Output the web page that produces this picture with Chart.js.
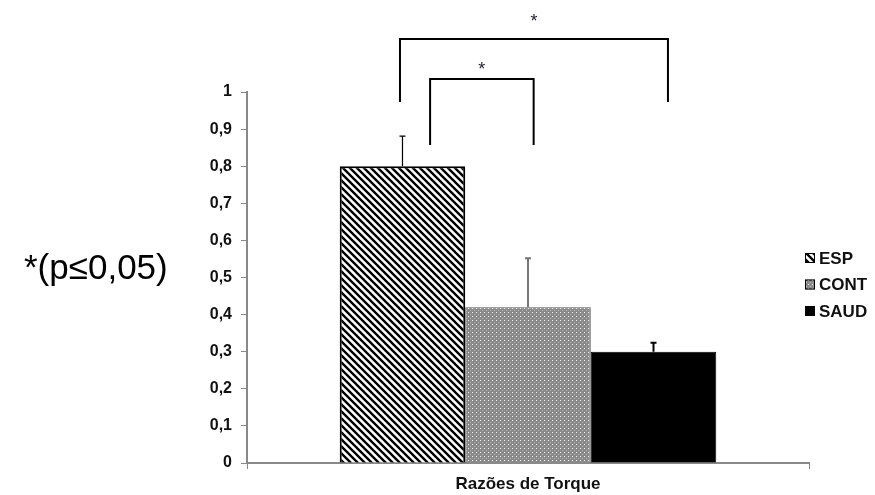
<!DOCTYPE html>
<html><head><meta charset="utf-8">
<script src="https://cdn.jsdelivr.net/npm/chart.js@4/dist/chart.umd.min.js"></script>
<style>html,body{margin:0;padding:0;background:#fff}canvas{display:block}</style>
</head><body>
<canvas id="c" width="875" height="495"></canvas>
<script>
const categories = ['Razões de Torque'];
const seriesNames = ['ESP', 'CONT', 'SAUD'];
const means = [0.80, 0.42, 0.30];
const errors = [0.081, 0.132, 0.024];
const yTickLabels = ['0', '0,1', '0,2', '0,3', '0,4', '0,5', '0,6', '0,7', '0,8', '0,9', '1'];
const bracketFrom = [0, 0];
const bracketTo = [2, 1];
const bracketTop = [1.143, 1.035];
const bracketLeg = [0.973, 0.857];
const bracketStar = ['*', '*'];
const noteText = '*(p≤0,05)';

const FONT = '"Liberation Sans", Arial, sans-serif';

function makePattern(w, h, draw) {
  const c = document.createElement('canvas');
  c.width = w; c.height = h;
  const g = c.getContext('2d');
  draw(g, w, h);
  return document.getElementById('c').getContext('2d').createPattern(c, 'repeat');
}
const hatch = makePattern(7, 7, (g, s) => {
  g.fillStyle = '#fff'; g.fillRect(0, 0, s, s);
  g.strokeStyle = '#000'; g.lineWidth = 2.4;
  g.beginPath();
  for (const k of [-s, 0, s]) { g.moveTo(k - 1, -1); g.lineTo(k + s + 1, s + 1); }
  g.stroke();
});
const dots = makePattern(4, 4, (g, s) => {
  g.fillStyle = '#8a8a8a'; g.fillRect(0, 0, s, s);
  g.fillStyle = '#f2f2f2'; g.fillRect(0, 0, 1, 1);
  g.fillStyle = '#b8b8b8'; g.fillRect(2, 2, 1, 1);
});
const fills = [hatch, dots, '#000'];
const borders = ['#000', '#555', '#000'];
const borderWidths = [2, 1, 1];
const errColors = ['#000', '#777', '#000'];
const errWidths = [1.2, 2, 2];

const overlay = {
  id: 'overlay',
  afterDatasetsDraw(chart) {
    const ctx = chart.ctx, ys = chart.scales.y;
    ctx.save();
    seriesNames.forEach((n, i) => {
      const el = chart.getDatasetMeta(i).data[0];
      const yt = ys.getPixelForValue(means[i] + errors[i]);
      ctx.strokeStyle = errColors[i]; ctx.lineWidth = errWidths[i];
      ctx.beginPath();
      ctx.moveTo(el.x, el.y); ctx.lineTo(el.x, yt);
      ctx.moveTo(el.x - 3, yt); ctx.lineTo(el.x + 3, yt);
      ctx.stroke();
    });
    const offL = [-0.02, 0.22], offR = [0.115, 0.045];
    bracketFrom.forEach((f, b) => {
      const e1 = chart.getDatasetMeta(f).data[0];
      const e2 = chart.getDatasetMeta(bracketTo[b]).data[0];
      const x1 = e1.x + e1.width * offL[b];
      const x2 = e2.x + e2.width * offR[b];
      const yt = ys.getPixelForValue(bracketTop[b]);
      const yl = ys.getPixelForValue(bracketLeg[b]);
      ctx.strokeStyle = '#000'; ctx.lineWidth = 2;
      ctx.beginPath();
      ctx.moveTo(x1, yl); ctx.lineTo(x1, yt); ctx.lineTo(x2, yt); ctx.lineTo(x2, yl);
      ctx.stroke();
      ctx.fillStyle = '#223';
      ctx.font = '18px ' + FONT;
      ctx.textAlign = 'center'; ctx.textBaseline = 'middle';
      ctx.fillText(bracketStar[b], (x1 + x2) / 2, yt - (b === 0 ? 17 : 9));
    });
    ctx.restore();
  },
  afterDraw(chart) {
    const ctx = chart.ctx;
    ctx.save();
    seriesNames.forEach((n, i) => {
      const cy = 258 + i * 26.5;
      ctx.fillStyle = fills[i];
      ctx.fillRect(805, cy - 5, 10, 10);
      ctx.strokeStyle = '#000'; ctx.lineWidth = 1;
      ctx.strokeRect(805.5, cy - 4.5, 9, 9);
      ctx.fillStyle = '#111';
      ctx.font = 'bold 17px ' + FONT;
      ctx.textAlign = 'left'; ctx.textBaseline = 'middle';
      ctx.fillText(n, 819, cy + 1);
    });
    ctx.fillStyle = '#000';
    ctx.font = '35px ' + FONT;
    ctx.textAlign = 'left'; ctx.textBaseline = 'middle';
    ctx.fillText(noteText, 24, 269);
    ctx.restore();
  }
};

new Chart(document.getElementById('c'), {
  type: 'bar',
  data: {
    labels: categories,
    datasets: seriesNames.map((n, i) => ({
      label: n,
      data: [means[i]],
      backgroundColor: fills[i],
      borderColor: borders[i],
      borderWidth: borderWidths[i],
      categoryPercentage: 0.67,
      barPercentage: 1.0
    }))
  },
  options: {
    responsive: false,
    animation: false,
    devicePixelRatio: 1,
    layout: { padding: { left: 202, right: 66, top: 92, bottom: 0 } },
    plugins: { legend: { display: false }, tooltip: { enabled: false } },
    scales: {
      x: {
        grid: { display: true, drawOnChartArea: false, offset: true, tickLength: 6, color: '#888', lineWidth: 1 },
        border: { color: '#888', width: 2 },
        ticks: { color: '#111', font: { family: FONT, size: 17, weight: 'bold' }, padding: 5 },
        afterFit: s => { s.height = 32; }
      },
      y: {
        min: 0, max: 1,
        ticks: { stepSize: 0.1, callback: (v, i) => yTickLabels[i], color: '#111',
                 font: { family: FONT, size: 16, weight: 'bold' }, padding: 9 },
        grid: { display: true, drawOnChartArea: false, tickLength: 6, color: '#888', lineWidth: 1 },
        border: { color: '#888', width: 2 },
        afterFit: s => { s.width = 45; }
      }
    }
  },
  plugins: [overlay]
});
</script>
</body></html>
